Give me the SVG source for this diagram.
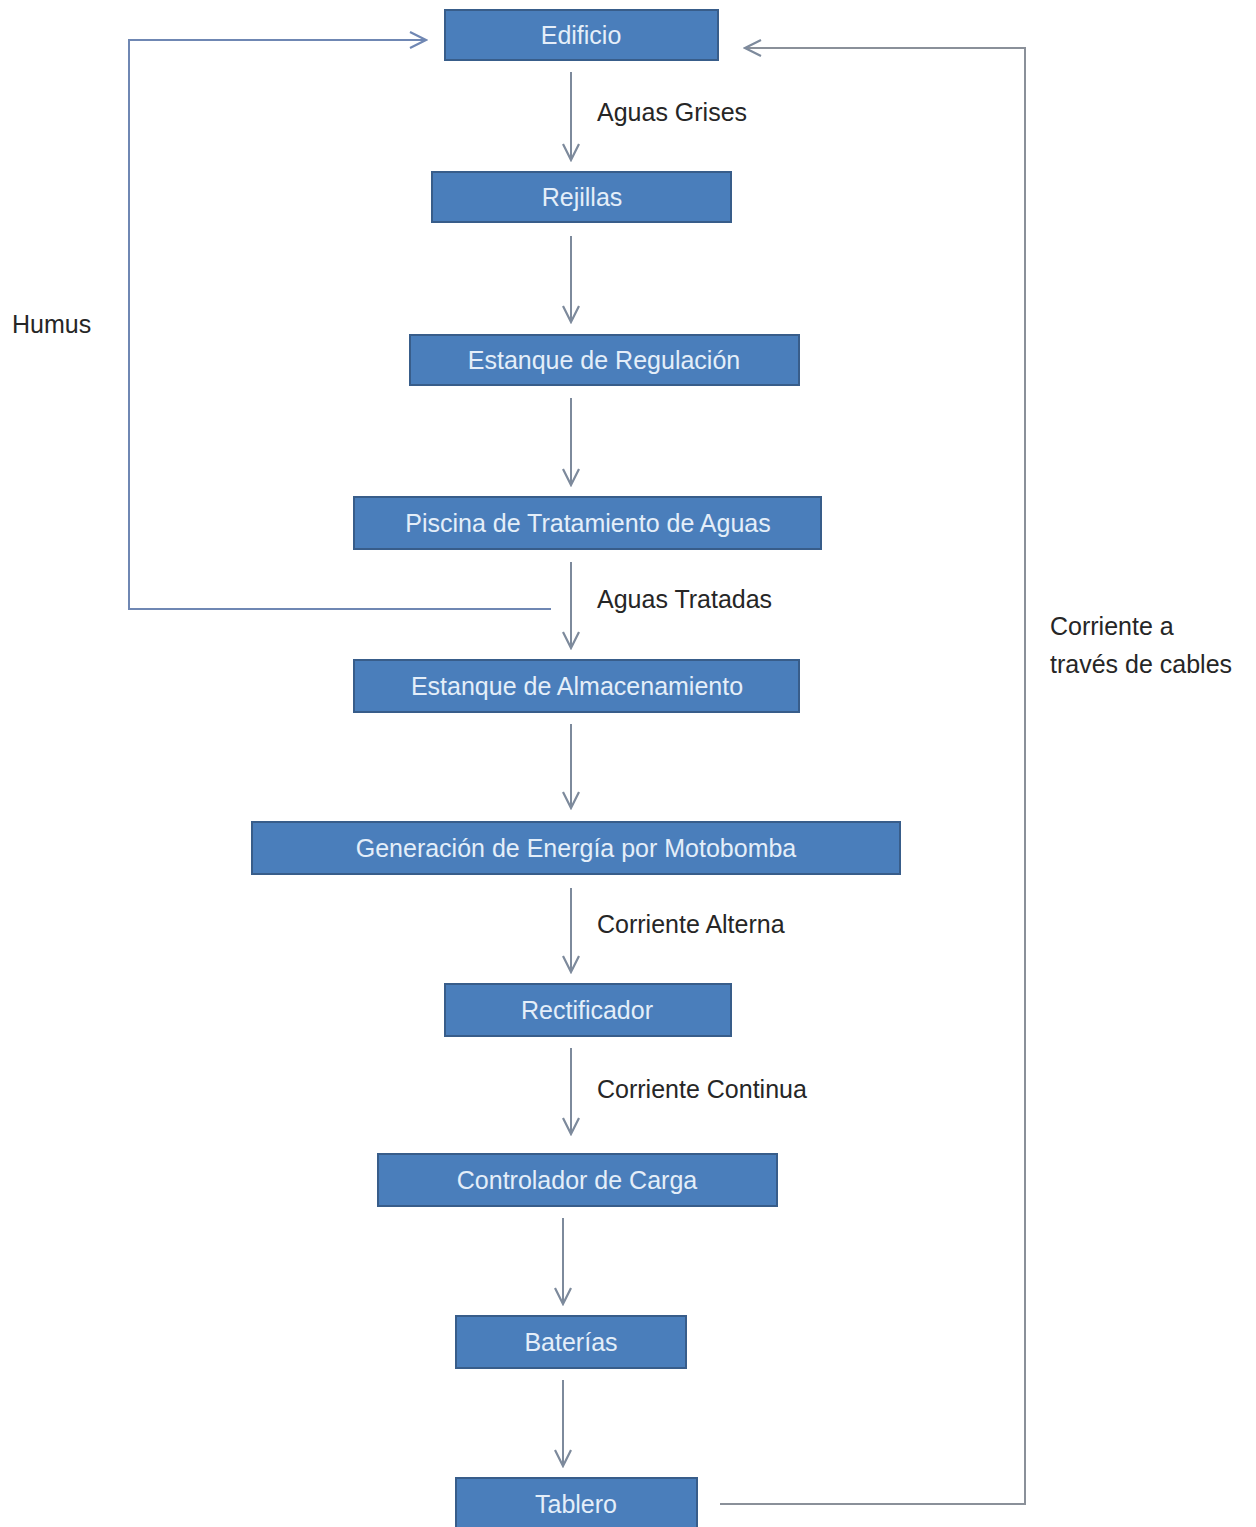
<svg xmlns="http://www.w3.org/2000/svg" width="1256" height="1527" viewBox="0 0 1256 1527">
<style>
.node rect{fill:#4a7ebb;stroke:#385d8a;stroke-width:2}
.node text{fill:#e4eef9;font-family:"Liberation Sans",Arial,sans-serif;font-size:25px;text-anchor:middle;dominant-baseline:central}
.lbl{fill:#262626;font-family:"Liberation Sans",Arial,sans-serif;font-size:25px}
.conn{fill:none;stroke:#7d8a9c;stroke-width:2}
</style>
<defs>
<marker id="arr" viewBox="0 0 20 20" refX="18" refY="10" markerWidth="20" markerHeight="20" markerUnits="userSpaceOnUse" orient="auto">
<path d="M2,2 L18,10 L2,18" fill="none" stroke="#7d8a9c" stroke-width="2.2"/>
</marker>
<marker id="arrb" viewBox="0 0 20 20" refX="18" refY="10" markerWidth="20" markerHeight="20" markerUnits="userSpaceOnUse" orient="auto">
<path d="M2,2 L18,10 L2,18" fill="none" stroke="#6f87b3" stroke-width="2.2"/>
</marker>
</defs>
<rect width="1256" height="1527" fill="#ffffff"/>
<g id="connectors">
<path class="conn" d="M571,72 V160" marker-end="url(#arr)"/>
<path class="conn" d="M571,236 V322" marker-end="url(#arr)"/>
<path class="conn" d="M571,398 V485" marker-end="url(#arr)"/>
<path class="conn" d="M571,562 V648" marker-end="url(#arr)"/>
<path class="conn" d="M571,724 V808" marker-end="url(#arr)"/>
<path class="conn" d="M571,888 V972" marker-end="url(#arr)"/>
<path class="conn" d="M571,1048 V1134" marker-end="url(#arr)"/>
<path class="conn" d="M563,1218 V1304" marker-end="url(#arr)"/>
<path class="conn" d="M563,1380 V1466" marker-end="url(#arr)"/>
<path class="conn" d="M551,609 H129 V40 H426" style="stroke:#6f87b3" marker-end="url(#arrb)"/>
<path class="conn" d="M720,1504 H1025 V48 H745" style="stroke:#8a9099" marker-end="url(#arr)"/>
<text class="lbl" x="597" y="121">Aguas Grises</text>
<text class="lbl" x="597" y="608">Aguas Tratadas</text>
<text class="lbl" x="597" y="933">Corriente Alterna</text>
<text class="lbl" x="597" y="1098">Corriente Continua</text>
<text class="lbl" x="12" y="333">Humus</text>
<text class="lbl" x="1050" y="635">Corriente a</text>
<text class="lbl" x="1050" y="673">través de cables</text>
</g>
<g id="n-edificio" class="node"><rect x="445" y="10" width="273" height="50"/><text x="581" y="35">Edificio</text></g>
<g id="n-rejillas" class="node"><rect x="432" y="172" width="299" height="50"/><text x="582" y="197">Rejillas</text></g>
<g id="n-regulacion" class="node"><rect x="410" y="335" width="389" height="50"/><text x="604" y="360">Estanque de Regulación</text></g>
<g id="n-piscina" class="node"><rect x="354" y="497" width="467" height="52"/><text x="588" y="523">Piscina de Tratamiento de Aguas</text></g>
<g id="n-almacenamiento" class="node"><rect x="354" y="660" width="445" height="52"/><text x="577" y="686">Estanque de Almacenamiento</text></g>
<g id="n-generacion" class="node"><rect x="252" y="822" width="648" height="52"/><text x="576" y="848">Generación de Energía por Motobomba</text></g>
<g id="n-rectificador" class="node"><rect x="445" y="984" width="286" height="52"/><text x="587" y="1010">Rectificador</text></g>
<g id="n-controlador" class="node"><rect x="378" y="1154" width="399" height="52"/><text x="577" y="1180">Controlador de Carga</text></g>
<g id="n-baterias" class="node"><rect x="456" y="1316" width="230" height="52"/><text x="571" y="1342">Baterías</text></g>
<g id="n-tablero" class="node"><rect x="456" y="1478" width="241" height="52"/><text x="576" y="1504">Tablero</text></g>
</svg>
